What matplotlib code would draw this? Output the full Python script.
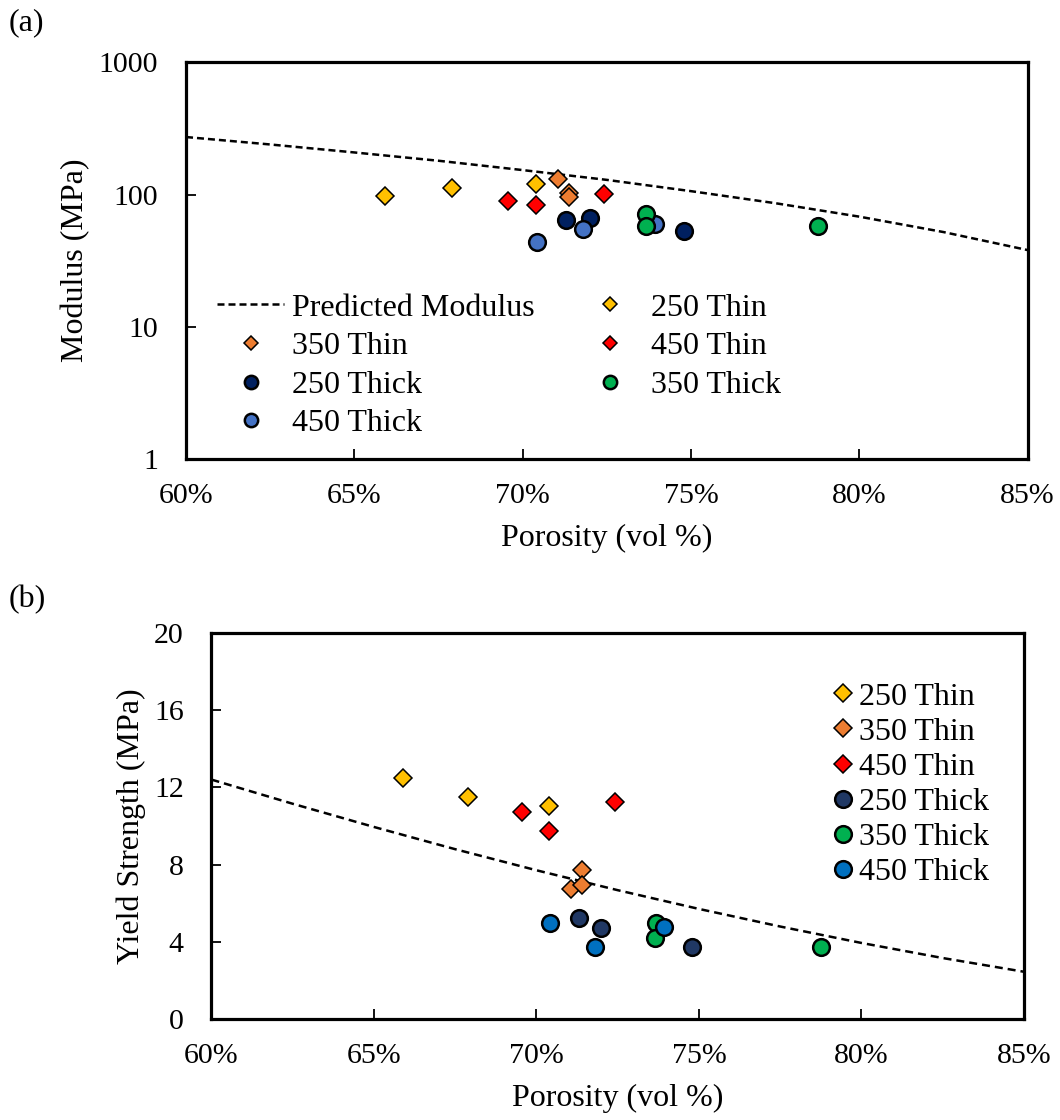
import matplotlib
matplotlib.use("Agg")
import matplotlib.pyplot as plt
from matplotlib.ticker import FixedLocator, FuncFormatter

plt.rcParams["font.family"] = ["Liberation Serif", "DejaVu Serif"]

# ---- data (porosity in %, modulus in MPa, yield strength in MPa) ----
pred_por = [60, 62.5, 65, 67.5, 70, 72.5, 75, 77.5, 80, 82.5, 85]
pred_modulus = [272, 239, 208, 180, 153, 129, 106, 86, 68, 52, 38]
pred_yield = [12.4, 11.15, 9.95, 8.80, 7.71, 6.68, 5.71, 4.80, 3.95, 3.17, 2.46]

thin250_por = [65.9, 67.9, 70.4]
thin250_mod = [97, 112, 121]
thin250_ys = [12.47, 11.52, 11.05]

thin350_por = [71.05, 71.39, 71.39]
thin350_mod = [130, 103.5, 95]
thin350_ys = [6.73, 7.72, 6.95]

thin450_por = [69.55, 70.4, 72.42]
thin450_mod = [89.6, 83, 101]
thin450_ys = [10.71, 9.74, 11.23]

thick250_por = [71.3, 72.0, 74.8]
thick250_mod = [64, 67, 52.9]
thick250_ys = [5.24, 4.74, 3.72]

thick350_por = [73.67, 73.66, 78.77]
thick350_mod = [71, 57.5, 58]
thick350_ys = [5.00, 4.22, 3.72]

thick450_por = [70.42, 71.8, 73.93]
thick450_mod = [43.9, 54.7, 59.7]
thick450_ys = [5.00, 3.72, 4.76]

x_ticks = [60, 65, 70, 75, 80, 85]
mod_ticks = [1, 10, 100, 1000]
ys_ticks = [0, 4, 8, 12, 16, 20]

# colours
c_yellow = "#FFC000"
c_orange = "#ED7D31"
c_red = "#FF0000"
c_green = "#00B050"
c_navy_a = "#002060"
c_blue_a = "#4472C4"
c_navy_b = "#203864"
c_blue_b = "#0070C0"

FS_TICK = 21.5
FS_LABEL = 23
FS_LEG = 23
LW_SPINE = 2.3

fig = plt.figure(figsize=(10.6, 11.2), dpi=100)
ax1 = fig.add_axes([0.1755, 0.5902, 0.9695 - 0.1755, 0.9444 - 0.5902])
ax2 = fig.add_axes([0.1995, 0.0899, 0.9660 - 0.1995, 0.4351 - 0.0899])

dia_kw = dict(marker="D", markersize=8.8, markeredgecolor="black",
              markeredgewidth=1.1, linestyle="none")
cir_kw = dict(marker="o", markersize=12, markeredgecolor="black",
              markeredgewidth=1.8, linestyle="none")


def style_axes(ax):
    for s in ax.spines.values():
        s.set_linewidth(LW_SPINE)
    ax.set_xlim(60, 85)
    ax.xaxis.set_major_locator(FixedLocator(x_ticks))
    ax.xaxis.set_major_formatter(FuncFormatter(lambda v, p: f"{v:.0f}%"))
    ax.tick_params(axis="both", which="major", direction="in", length=7,
                   width=1.3, labelsize=FS_TICK, top=False, right=False)
    ax.tick_params(axis="x", pad=17)
    ax.tick_params(axis="y", pad=20)
    ax.tick_params(axis="both", which="minor", length=0)
    ax.set_xlabel("Porosity (vol %)", fontsize=FS_LABEL, labelpad=11)


# ---- (a) modulus ----
l_pred, = ax1.plot(pred_por, pred_modulus, linestyle=(0, (2.8, 1.6)),
                   color="black", linewidth=1.8)
h_t250, = ax1.plot(thin250_por, thin250_mod, markerfacecolor=c_yellow, **dia_kw)
h_t350, = ax1.plot(thin350_por, thin350_mod, markerfacecolor=c_orange, **dia_kw)
h_t450, = ax1.plot(thin450_por, thin450_mod, markerfacecolor=c_red, **dia_kw)
h_k250, = ax1.plot(thick250_por, thick250_mod, markerfacecolor=c_navy_a, **cir_kw)
h_k450, = ax1.plot(thick450_por, thick450_mod, markerfacecolor=c_blue_a, **cir_kw)
h_k350, = ax1.plot(thick350_por, thick350_mod, markerfacecolor=c_green, **cir_kw)

ax1.set_yscale("log")
ax1.set_ylim(1, 1000)
ax1.yaxis.set_major_locator(FixedLocator(mod_ticks))
ax1.yaxis.set_major_formatter(FuncFormatter(lambda v, p: f"{v:.0f}"))
ax1.yaxis.set_minor_locator(FixedLocator([]))
style_axes(ax1)
ax1.set_ylabel("Modulus (MPa)", fontsize=FS_LABEL, labelpad=6)

handles_a = [l_pred, h_t350, h_k250, h_k450, h_t250, h_t450, h_k350]
labels_a = ["Predicted Modulus", "350 Thin", "250 Thick", "450 Thick",
            "250 Thin", "450 Thin", "350 Thick"]
ax1.legend(handles_a, labels_a, ncol=2, frameon=False, fontsize=FS_LEG,
           loc="upper left", bbox_to_anchor=(0.037, 0.418),
           handlelength=2.1, handletextpad=0.25, columnspacing=1.3,
           labelspacing=0.29, borderaxespad=0.0, borderpad=0.0,
           markerscale=0.8)

# ---- (b) yield strength ----
ax2.plot(pred_por, pred_yield, linestyle=(0, (3.2, 2.0)), color="black",
         linewidth=1.8)
g_t250, = ax2.plot(thin250_por, thin250_ys, markerfacecolor=c_yellow, **dia_kw)
g_t350, = ax2.plot(thin350_por, thin350_ys, markerfacecolor=c_orange, **dia_kw)
g_t450, = ax2.plot(thin450_por, thin450_ys, markerfacecolor=c_red, **dia_kw)
g_k250, = ax2.plot(thick250_por, thick250_ys, markerfacecolor=c_navy_b, **cir_kw)
g_k350, = ax2.plot(thick350_por, thick350_ys, markerfacecolor=c_green, **cir_kw)
g_k450, = ax2.plot(thick450_por, thick450_ys, markerfacecolor=c_blue_b, **cir_kw)

ax2.set_ylim(0, 20)
ax2.yaxis.set_major_locator(FixedLocator(ys_ticks))
style_axes(ax2)
ax2.set_ylabel("Yield Strength (MPa)", fontsize=FS_LABEL, labelpad=6)

ax2.legend([g_t250, g_t350, g_t450, g_k250, g_k350, g_k450],
           ["250 Thin", "350 Thin", "450 Thin", "250 Thick", "350 Thick",
            "450 Thick"],
           frameon=False, fontsize=FS_LEG, loc="upper left",
           bbox_to_anchor=(0.767, 0.872), handlelength=0.5, handletextpad=0.25,
           labelspacing=0.18, borderaxespad=0.0, borderpad=0.0)

fig.text(0.008, 0.993, "(a)", fontsize=FS_LABEL, va="top", ha="left")
fig.text(0.008, 0.478, "(b)", fontsize=FS_LABEL, va="top", ha="left")

fig.savefig("out.png", dpi=100)
